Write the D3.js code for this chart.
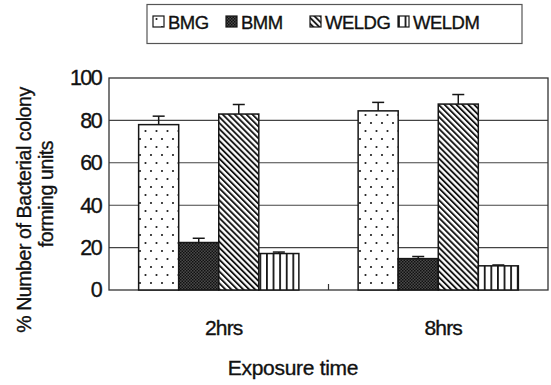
<!DOCTYPE html>
<html>
<head>
<meta charset="utf-8">
<script src="https://cdn.jsdelivr.net/npm/d3@7/dist/d3.min.js"></script>
<style>
  html, body { margin: 0; padding: 0; background: #fff; }
  svg { display: block; font-family: "Liberation Sans", Arial, sans-serif; }
  svg text { stroke: #111; stroke-width: 0.35px; }
</style>
</head>
<body>
<svg id="chart" width="551" height="385"></svg>
<script>
// Exposure times on the x axis
const categories = ["2hrs", "8hrs"];
// Series, in legend / bar order
const seriesNames = ["BMG", "BMM", "WELDG", "WELDM"];
// Mean % colony forming units per series, one value per exposure time
const bmg   = [78, 84.5];
const bmm   = [22.4, 14.8];
const weldg = [83, 87.7];
const weldm = [17.2, 11.4];
// Upper error bar lengths
const bmgErr   = [4, 4];
const bmmErr   = [2, 1];
const weldgErr = [4.5, 4.5];
const weldmErr = [0.7, 0.4];
// Y axis ticks
const yTicks = [0, 20, 40, 60, 80, 100];

const values = { BMG: bmg, BMM: bmm, WELDG: weldg, WELDM: weldm };
const errors = { BMG: bmgErr, BMM: bmmErr, WELDG: weldgErr, WELDM: weldmErr };

const svg = d3.select("#chart");
const plot = { left: 109, right: 548, top: 78, bottom: 290 };

const x0 = d3.scaleBand().domain(categories).range([plot.left, plot.right]).paddingInner(0).paddingOuter(0);
const x1 = d3.scaleBand().domain(seriesNames).range([0, x0.bandwidth()]).paddingInner(0).paddingOuter(0.74);
const y = d3.scaleLinear().domain([0, 100]).range([plot.bottom, plot.top]);

// Fill patterns for each series
const defs = svg.append("defs");
const ink = "#161616";

// BMG: sparse staggered dots on white
const pDots = defs.append("pattern").attr("id", "p-BMG").attr("patternUnits", "userSpaceOnUse")
  .attr("width", 11).attr("height", 16);
pDots.append("rect").attr("width", 11).attr("height", 16).attr("fill", "#fff");
pDots.append("circle").attr("cx", 2.5).attr("cy", 3).attr("r", 1.05).attr("fill", ink);
pDots.append("circle").attr("cx", 8).attr("cy", 11).attr("r", 1.05).attr("fill", ink);

// BMM: dense dark stipple
const pDark = defs.append("pattern").attr("id", "p-BMM").attr("patternUnits", "userSpaceOnUse")
  .attr("width", 3).attr("height", 3);
pDark.append("rect").attr("width", 3).attr("height", 3).attr("fill", "#4a4a4a");
pDark.append("rect").attr("x", 0).attr("y", 0).attr("width", 1.5).attr("height", 1.5).attr("fill", "#111");
pDark.append("rect").attr("x", 1.5).attr("y", 1.5).attr("width", 1.5).attr("height", 1.5).attr("fill", "#111");

// WELDG: diagonal hatching, top-left to bottom-right
const pDiag = defs.append("pattern").attr("id", "p-WELDG").attr("patternUnits", "userSpaceOnUse")
  .attr("width", 4.2).attr("height", 10).attr("patternTransform", "rotate(-45)");
pDiag.append("rect").attr("width", 4.2).attr("height", 10).attr("fill", "#fff");
pDiag.append("rect").attr("x", 0).attr("width", 1.9).attr("height", 10).attr("fill", ink);

// WELDM: vertical stripes
const pVert = defs.append("pattern").attr("id", "p-WELDM").attr("patternUnits", "userSpaceOnUse")
  .attr("width", 6.6).attr("height", 10).attr("x", 2);
pVert.append("rect").attr("width", 6.6).attr("height", 10).attr("fill", "#fff");
pVert.append("rect").attr("x", 0).attr("width", 1.8).attr("height", 10).attr("fill", ink);

// Gridlines
svg.append("g").selectAll("line").data(yTicks.filter(t => t > 0 && t < 100)).join("line")
  .attr("x1", plot.left).attr("x2", plot.right)
  .attr("y1", d => y(d)).attr("y2", d => y(d))
  .attr("stroke", "#444").attr("stroke-width", 1.1);

// Plot frame
svg.append("rect")
  .attr("x", plot.left).attr("y", plot.top)
  .attr("width", plot.right - plot.left).attr("height", plot.bottom - plot.top)
  .attr("fill", "none").attr("stroke", "#333").attr("stroke-width", 1.3);

// Inward tick between the two groups
svg.append("g").selectAll("line").data(categories.slice(1)).join("line")
  .attr("x1", d => x0(d)).attr("x2", d => x0(d))
  .attr("y1", plot.bottom).attr("y2", plot.bottom - 6)
  .attr("stroke", "#333").attr("stroke-width", 1.2);

// Bars
const barData = [];
categories.forEach((c, i) => seriesNames.forEach(s => barData.push({ c, s, v: values[s][i], e: errors[s][i] })));

const bars = svg.append("g");
bars.selectAll("rect").data(barData).join("rect")
  .attr("x", d => x0(d.c) + x1(d.s))
  .attr("y", d => y(d.v))
  .attr("width", x1.bandwidth())
  .attr("height", d => y(0) - y(d.v))
  .attr("fill", d => `url(#p-${d.s})`)
  .attr("stroke", ink).attr("stroke-width", 1.5);

// Upper error bars
const errG = svg.append("g").attr("stroke", ink).attr("stroke-width", 1.5);
barData.forEach(d => {
  const cx = x0(d.c) + x1(d.s) + x1.bandwidth() / 2;
  errG.append("line").attr("x1", cx).attr("x2", cx).attr("y1", y(d.v)).attr("y2", y(d.v + d.e));
  errG.append("line").attr("x1", cx - 6).attr("x2", cx + 6).attr("y1", y(d.v + d.e)).attr("y2", y(d.v + d.e));
});

// Y axis labels
const yAxis = d3.axisLeft(y).tickValues(yTicks).tickSize(0).tickPadding(8);
const yg = svg.append("g").attr("transform", `translate(${plot.left},0)`).call(yAxis);
yg.select(".domain").remove();
yg.selectAll("text").attr("font-size", 21.5).attr("fill", "#111")
  .attr("letter-spacing", "-1.6px").attr("font-family", "Liberation Sans, Arial, sans-serif");

// X axis labels
const xAxis = d3.axisBottom(x0).tickSize(0).tickPadding(0);
const xg = svg.append("g").attr("transform", `translate(0,${plot.bottom})`).call(xAxis);
xg.select(".domain").remove();
xg.selectAll("text").attr("y", 45).attr("dy", 0).attr("dx", 5).attr("font-size", 21).attr("fill", "#111")
  .attr("letter-spacing", "-0.8px").attr("font-family", "Liberation Sans, Arial, sans-serif");

// Axis titles
svg.append("text").attr("x", 293).attr("y", 375).attr("text-anchor", "middle")
  .attr("font-size", 21).attr("fill", "#111").attr("letter-spacing", "-0.3px")
  .text("Exposure time");

svg.append("text").attr("transform", "translate(31,210) rotate(-90)").attr("text-anchor", "middle")
  .attr("font-size", 19.5).attr("fill", "#111").attr("letter-spacing", "-0.4px")
  .text("% Number of Bacterial colony");
svg.append("text").attr("transform", "translate(53,194) rotate(-90)").attr("text-anchor", "middle")
  .attr("font-size", 19.5).attr("fill", "#111").attr("letter-spacing", "-0.4px")
  .text("forming units");

// Legend
const legend = svg.append("g");
legend.append("rect").attr("x", 147).attr("y", 4.5).attr("width", 375).attr("height", 39)
  .attr("fill", "#fff").attr("stroke", "#555").attr("stroke-width", 1.2);
const legendX = { BMG: 153, BMM: 226, WELDG: 310, WELDM: 398 };
seriesNames.forEach(s => {
  legend.append("rect").attr("x", legendX[s]).attr("y", 16).attr("width", 11).attr("height", 11)
    .attr("fill", `url(#p-${s})`).attr("stroke", ink).attr("stroke-width", 1.2);
  legend.append("text").attr("x", legendX[s] + 15).attr("y", 28.5)
    .attr("font-size", 18.5).attr("fill", "#111").attr("letter-spacing", "-0.5px").text(s);
});
</script>
</body>
</html>
